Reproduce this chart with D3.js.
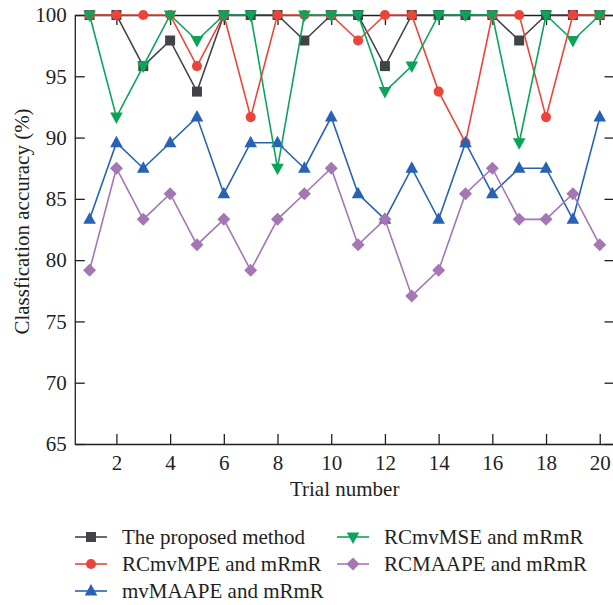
<!DOCTYPE html>
<html>
<head>
<meta charset="utf-8">
<script src="https://cdn.jsdelivr.net/npm/d3@7"></script>
<style>
  html, body { margin: 0; padding: 0; background: #fff; }
  svg { display: block; }
  text { font-family: "Liberation Serif", "Times New Roman", serif; fill: #231f20; }
</style>
</head>
<body>
<svg id="chart" width="613" height="605"></svg>
<script>
// Trials 1..20
const trials = d3.range(1, 21);

// Classification accuracy (%) per trial for each method
const proposed = [100, 100, 95.83, 97.92, 93.75, 100, 100, 100, 97.92, 100,
                  100, 95.83, 100, 100, 100, 100, 97.92, 100, 100, 100];
const rcmvmpe  = [100, 100, 100, 100, 95.83, 100, 91.67, 100, 100, 100,
                  97.92, 100, 100, 93.75, 89.58, 100, 100, 91.67, 100, 100];
const mvmaape  = [83.33, 89.58, 87.5, 89.58, 91.67, 85.42, 89.58, 89.58, 87.5, 91.67,
                  85.42, 83.33, 87.5, 83.33, 89.58, 85.42, 87.5, 87.5, 83.33, 91.67];
const rcmvmse  = [100, 91.67, 95.83, 100, 97.92, 100, 100, 87.5, 100, 100,
                  100, 93.75, 95.83, 100, 100, 100, 89.58, 100, 97.92, 100];
const rcmaape  = [79.17, 87.5, 83.33, 85.42, 81.25, 83.33, 79.17, 83.33, 85.42, 87.5,
                  81.25, 83.33, 77.08, 79.17, 85.42, 87.5, 83.33, 83.33, 85.42, 81.25];

const seriesNames = ["The proposed method", "RCmvMPE and mRmR", "mvMAAPE and mRmR",
                     "RCmvMSE and mRmR", "RCMAAPE and mRmR"];
const yTicks = [65, 70, 75, 80, 85, 90, 95, 100];
const xTicks = [2, 4, 6, 8, 10, 12, 14, 16, 18, 20];

const series = [
  { name: seriesNames[0], values: proposed, color: "#404347", symbol: "square" },
  { name: seriesNames[1], values: rcmvmpe,  color: "#e9453a", symbol: "circle" },
  { name: seriesNames[2], values: mvmaape,  color: "#2862b4", symbol: "triUp" },
  { name: seriesNames[3], values: rcmvmse,  color: "#0ca35b", symbol: "triDown" },
  { name: seriesNames[4], values: rcmaape,  color: "#a576b4", symbol: "diamond" }
];

const svg = d3.select("#chart");
const x = d3.scaleLinear().domain([0.45, 20.55]).range([74.8, 614.5]);
const y = d3.scaleLinear().domain([65, 100]).range([444, 15]);

const axisColor = "#231f20";
const fontSize = 21;

// marker path generators
function markerPath(sym) {
  switch (sym) {
    case "square":  return "M-5,-5H5V5H-5Z";
    case "circle":  return d3.symbol(d3.symbolCircle, 80)();
    case "triUp":   return "M0,-7L6.3,4.5H-6.3Z";
    case "triDown": return "M0,7L6.3,-4.5H-6.3Z";
    case "diamond": return "M0,-6.5L6.5,0L0,6.5L-6.5,0Z";
  }
}

// axes: bottom and left carry labels, top and right mirror the ticks inward
const gAxes = svg.append("g");
function styleAxis(g) {
  g.selectAll("path.domain").attr("stroke", axisColor).attr("stroke-width", 1.3);
  g.selectAll(".tick line").attr("stroke", axisColor).attr("stroke-width", 1.3);
  g.selectAll(".tick text").attr("fill", axisColor)
    .style("font-family", '"Liberation Serif", serif').style("font-size", fontSize + "px");
}
const xb = gAxes.append("g").attr("transform", `translate(0,${y(65)})`)
  .call(d3.axisBottom(x).tickValues(xTicks).tickSizeInner(-10).tickSizeOuter(0).tickPadding(11));
styleAxis(xb);
const yl = gAxes.append("g").attr("transform", `translate(${x(0.45)},0)`)
  .call(d3.axisLeft(y).tickValues(yTicks).tickSizeInner(-10).tickSizeOuter(0).tickPadding(8));
styleAxis(yl);
yl.selectAll(".tick text").attr("x", -8);
const xt = gAxes.append("g").attr("transform", `translate(0,${y(100)})`)
  .call(d3.axisTop(x).tickValues(xTicks).tickSizeInner(-10).tickSizeOuter(0).tickFormat(""));
styleAxis(xt);
const yr = gAxes.append("g").attr("transform", `translate(${x(20.55)},0)`)
  .call(d3.axisRight(y).tickValues(yTicks).tickSizeInner(-10).tickSizeOuter(0).tickFormat(""));
styleAxis(yr);

// axis titles
svg.append("text")
  .attr("x", (x.range()[0] + x.range()[1]) / 2).attr("y", 496)
  .attr("text-anchor", "middle").style("font-size", fontSize + "px")
  .text("Trial number");
svg.append("text")
  .attr("transform", `translate(29,${(y(65) + y(100)) / 2 - 8}) rotate(-90)`)
  .attr("text-anchor", "middle").style("font-size", fontSize + "px")
  .text("Classfication accuracy (%)");

// series lines and markers
const line = d3.line().x((d, i) => x(trials[i])).y(d => y(d));
const gSeries = svg.append("g");
series.forEach(s => {
  const g = gSeries.append("g");
  g.append("path").datum(s.values)
    .attr("d", line).attr("fill", "none")
    .attr("stroke", s.color).attr("stroke-width", 1.6);
  g.selectAll("path.mk").data(s.values).join("path")
    .attr("class", "mk")
    .attr("transform", (d, i) => `translate(${x(trials[i])},${y(d)})`)
    .attr("d", markerPath(s.symbol))
    .attr("fill", s.color);
});

// legend: two columns
const legendPos = [
  [91, 537], [91, 564], [91, 591],
  [353, 537], [353, 564]
];
const gLeg = svg.append("g");
series.forEach((s, i) => {
  const [cx, cy] = legendPos[i];
  const g = gLeg.append("g").attr("transform", `translate(${cx},${cy})`);
  g.append("line").attr("x1", -16).attr("x2", 16).attr("y1", 0).attr("y2", 0)
    .attr("stroke", s.color).attr("stroke-width", 1.6);
  g.append("path").attr("d", markerPath(s.symbol)).attr("fill", s.color);
  g.append("text").attr("x", 31).attr("y", 0).attr("dy", "0.35em")
    .style("font-size", fontSize + "px").text(s.name);
});
</script>
</body>
</html>
